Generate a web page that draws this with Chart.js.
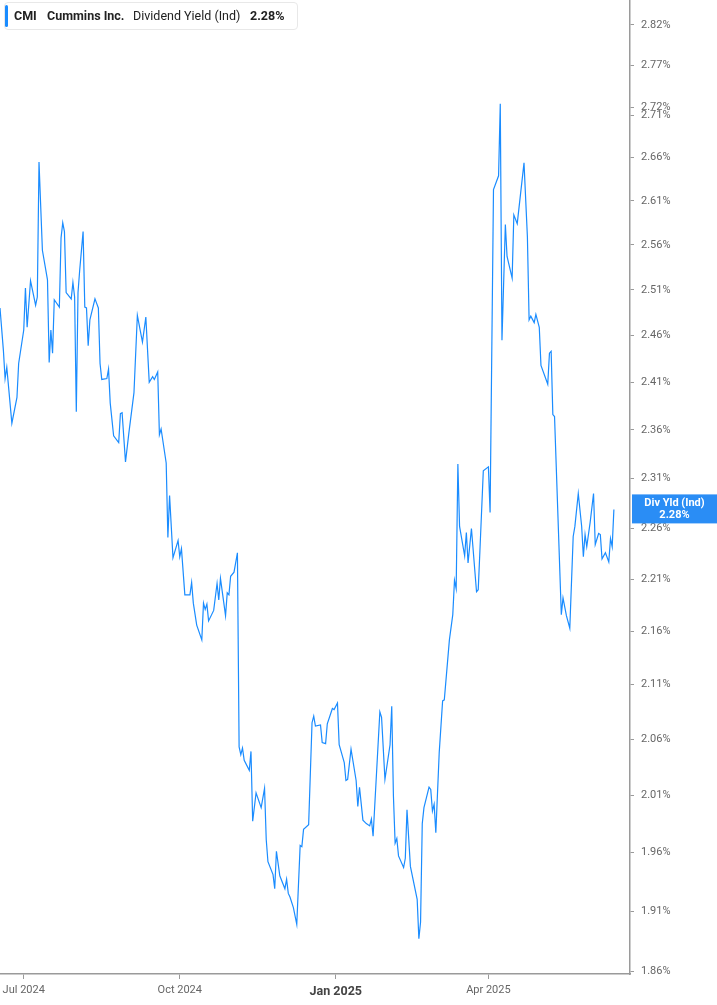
<!DOCTYPE html>
<html lang="en">
<head>
    <meta charset="UTF-8">
    <meta name="viewport" content="width=device-width, initial-scale=1.0">
    <title>CMI Dividend Yield</title>
    <script src="https://cdn.jsdelivr.net/npm/chart.js"></script>
    <style>
        body { margin: 0; font-family: Roboto, Arial, sans-serif; background: #fff; }
        #wrap { position: relative; width: 717px; height: 1005px; }
        #legend {
            position: absolute; left: 4px; top: 2px; width: 292px; height: 26px;
            border: 1px solid #e8e8e8; border-radius: 4px; background: #fff;
            font-size: 12.5px; color: #222; line-height: 26px; white-space: nowrap;
        }
        #legend .bar { position: absolute; left: 0; top: 2px; width: 3px; height: 22px; background: #1a8cff; border-radius: 2px; }
        #legend span { position: absolute; top: 0; }
    </style>
</head>
<body>
<div id="wrap">
    <canvas id="yieldChart"></canvas>
    <div id="legend">
        <div class="bar"></div>
        <span style="left:9px;font-weight:700">CMI</span>
        <span style="left:42px;font-weight:700">Cummins Inc.</span>
        <span style="left:128px">Dividend Yield (Ind)</span>
        <span style="left:245px;font-weight:700">2.28%</span>
    </div>
</div>
<script>
// dividend yield (%)
const dates = [
    '2024-06-17','2024-06-19','2024-06-20','2024-06-21','2024-06-24','2024-06-27','2024-06-28',
    '2024-07-01','2024-07-02','2024-07-03','2024-07-05','2024-07-08','2024-07-09','2024-07-10','2024-07-12',
    '2024-07-15','2024-07-16','2024-07-17','2024-07-18','2024-07-19','2024-07-22','2024-07-23','2024-07-24',
    '2024-07-25','2024-07-26','2024-07-29','2024-07-30','2024-07-31',
    '2024-08-01','2024-08-02','2024-08-03','2024-08-05','2024-08-06','2024-08-07','2024-08-08','2024-08-09',
    '2024-08-12','2024-08-13','2024-08-14','2024-08-15','2024-08-16','2024-08-19','2024-08-20','2024-08-21',
    '2024-08-23','2024-08-26','2024-08-27','2024-08-28','2024-08-30',
    '2024-09-01','2024-09-04','2024-09-06','2024-09-09','2024-09-11','2024-09-13','2024-09-15','2024-09-16',
    '2024-09-18','2024-09-19','2024-09-20','2024-09-23','2024-09-24','2024-09-25','2024-09-27','2024-09-30',
    '2024-10-01','2024-10-02','2024-10-04','2024-10-07','2024-10-08','2024-10-09','2024-10-11','2024-10-14',
    '2024-10-15','2024-10-16','2024-10-17','2024-10-18','2024-10-21','2024-10-23','2024-10-24','2024-10-25',
    '2024-10-28','2024-10-29','2024-10-30','2024-10-31',
    '2024-11-02','2024-11-04','2024-11-05','2024-11-06','2024-11-07','2024-11-08','2024-11-11','2024-11-12',
    '2024-11-13','2024-11-15','2024-11-18','2024-11-20','2024-11-21','2024-11-22','2024-11-25','2024-11-26',
    '2024-11-27','2024-11-29',
    '2024-12-02','2024-12-03','2024-12-04','2024-12-05','2024-12-07','2024-12-09','2024-12-11','2024-12-12',
    '2024-12-13','2024-12-16','2024-12-18','2024-12-19','2024-12-20','2024-12-23','2024-12-24','2024-12-26',
    '2024-12-27','2024-12-30','2024-12-31',
    '2025-01-02','2025-01-03','2025-01-06','2025-01-07','2025-01-08','2025-01-10','2025-01-13','2025-01-14',
    '2025-01-15','2025-01-17','2025-01-19','2025-01-21','2025-01-22','2025-01-23','2025-01-27','2025-01-28',
    '2025-01-30',
    '2025-02-02','2025-02-03','2025-02-04','2025-02-05','2025-02-06','2025-02-07','2025-02-10','2025-02-11',
    '2025-02-12','2025-02-14','2025-02-18','2025-02-19','2025-02-20','2025-02-21','2025-02-22','2025-02-25',
    '2025-02-26','2025-02-27','2025-02-28',
    '2025-03-01','2025-03-03','2025-03-05','2025-03-06','2025-03-09','2025-03-11','2025-03-12','2025-03-13',
    '2025-03-14','2025-03-15','2025-03-18','2025-03-19','2025-03-20','2025-03-22','2025-03-25','2025-03-26',
    '2025-03-27','2025-03-29',
    '2025-04-01','2025-04-02','2025-04-04','2025-04-07','2025-04-08','2025-04-09','2025-04-11','2025-04-12',
    '2025-04-15','2025-04-16','2025-04-18','2025-04-22','2025-04-24','2025-04-25','2025-04-26','2025-04-28',
    '2025-04-29',
    '2025-05-01','2025-05-02','2025-05-06','2025-05-07','2025-05-08','2025-05-09','2025-05-10','2025-05-14',
    '2025-05-15','2025-05-17','2025-05-19','2025-05-21','2025-05-22','2025-05-24','2025-05-26','2025-05-27',
    '2025-05-28','2025-05-29','2025-05-31',
    '2025-06-02','2025-06-03','2025-06-05','2025-06-06','2025-06-07','2025-06-09','2025-06-11','2025-06-12',
    '2025-06-13','2025-06-14'
];
const yields = [
    2.490,2.444,2.414,2.426,2.367,2.394,2.430,
    2.466,2.512,2.469,2.520,2.493,2.502,2.655,2.554,
    2.521,2.431,2.466,2.441,2.499,2.491,2.568,2.585,
    2.575,2.507,2.500,2.518,2.502,
    2.379,2.507,2.532,2.575,2.491,2.490,2.449,2.477,
    2.500,2.495,2.490,2.430,2.413,2.414,2.424,2.388,
    2.354,2.347,2.377,2.378,2.327,
    2.357,2.399,2.482,2.453,2.480,2.410,2.416,2.413,
    2.421,2.355,2.361,2.326,2.251,2.293,2.231,2.248,
    2.232,2.240,2.195,2.195,2.207,2.187,2.166,2.152,
    2.187,2.181,2.186,2.170,2.180,2.206,2.190,2.211,
    2.175,2.197,2.195,2.213,
    2.217,2.236,2.053,2.046,2.052,2.041,2.032,2.049,
    1.987,2.012,1.999,2.016,1.971,1.952,1.941,1.929,
    1.961,1.940,
    1.929,1.937,1.925,1.922,1.913,1.899,1.966,1.965,
    1.980,1.984,2.075,2.081,2.072,2.073,2.057,2.056,
    2.074,2.088,2.087,
    2.093,2.055,2.039,2.023,2.024,2.051,2.023,2.000,
    2.017,1.988,1.985,1.983,1.989,1.974,2.085,2.080,
    2.024,
    2.055,2.090,2.009,1.968,1.972,1.957,1.947,1.955,
    1.997,1.948,1.920,1.887,1.901,1.985,1.999,2.017,
    2.015,1.996,2.002,
    1.977,2.048,2.095,2.096,2.152,2.176,2.209,2.201,
    2.325,2.262,2.233,2.256,2.226,2.260,2.198,2.200,
    2.238,2.318,
    2.322,2.276,2.623,2.639,2.724,2.455,2.583,2.547,
    2.523,2.594,2.584,2.654,2.569,2.477,2.481,2.474,
    2.483,
    2.469,2.428,2.408,2.441,2.443,2.376,2.374,2.176,
    2.192,2.175,2.163,2.252,2.262,2.295,2.262,2.232,
    2.254,2.242,2.266,
    2.295,2.244,2.255,2.254,2.230,2.236,2.227,2.250,
    2.242,2.279
];

// axis ticks
const xTickDates = ['2024-07-01', '2024-10-01', '2025-01-01', '2025-04-01'];
const xTickLabels = ['Jul 2024', 'Oct 2024', 'Jan 2025', 'Apr 2025'];
const yTicks = [1.86, 1.91, 1.96, 2.01, 2.06, 2.11, 2.16, 2.21, 2.26, 2.31, 2.36, 2.41,
                2.46, 2.51, 2.56, 2.61, 2.66, 2.71, 2.72, 2.77, 2.82];
const lastLabel = 'Div Yld (Ind)';

// days since 1 Jul 2024 (no date adapter available, so x is a plain number)
const base = Date.parse('2024-07-01');
const toDay = s => (Date.parse(s) - base) / 86400000;

const points = dates.map((d, i) => ({ x: toDay(d), y: yields[i] }));
const xTicks = xTickDates.map(toDay);
const isJan = ctx => !!(ctx.tick && ctx.tick.value === xTicks[2]);

// blue box with the latest value on the right axis
const lastValueBox = {
    id: 'lastValueBox',
    afterDraw(chart) {
        const ctx = chart.ctx;
        const y = chart.scales.y.getPixelForValue(yields[yields.length - 1]);
        const left = chart.chartArea.right + 2;
        ctx.save();
        ctx.fillStyle = '#2a8df5';
        ctx.fillRect(left, y - 15, chart.width - left, 29);
        ctx.fillStyle = '#fff';
        ctx.font = 'bold 11px Roboto, Arial, sans-serif';
        ctx.textAlign = 'center';
        ctx.textBaseline = 'middle';
        const cx = (left + chart.width) / 2;
        ctx.fillText(lastLabel, cx, y - 6);
        ctx.fillText(yields[yields.length - 1].toFixed(2) + '%', cx, y + 6);
        ctx.restore();
    }
};

new Chart(document.getElementById('yieldChart'), {
    type: 'line',
    data: {
        datasets: [{
            data: points,
            borderColor: '#1a8cff',
            borderWidth: 1.2,
            pointRadius: 0,
            tension: 0
        }]
    },
    options: {
        responsive: true,
        maintainAspectRatio: false,
        animation: false,
        layout: { padding: 0 },
        plugins: { legend: { display: false }, tooltip: { enabled: false } },
        scales: {
            x: {
                type: 'linear',
                min: -14,
                max: 357.5,
                afterBuildTicks: s => { s.ticks = xTicks.map(v => ({ value: v })); },
                afterFit: s => { s.height = 31; s.paddingLeft = 0; s.paddingRight = 0; },
                grid: { drawOnChartArea: false, tickLength: 5, color: '#9a9a9a' },
                border: { color: '#9a9a9a', width: 1.5 },
                ticks: {
                    autoSkip: false,
                    maxRotation: 0,
                    padding: 5,
                    color: ctx => isJan(ctx) ? '#444' : '#666',
                    font: ctx => isJan(ctx)
                        ? { family: 'Roboto', size: 12.5, weight: 'bold' }
                        : { family: 'Roboto', size: 11 },
                    callback: v => xTickLabels[xTicks.indexOf(v)]
                }
            },
            y: {
                type: 'logarithmic',
                position: 'right',
                min: 1.858,
                max: 2.851,
                afterBuildTicks: s => { s.ticks = yTicks.map(v => ({ value: v })); },
                afterFit: s => { s.width = 87; s.paddingTop = 0; s.paddingBottom = 0; },
                grid: { drawOnChartArea: false, tickLength: 4, color: '#9a9a9a' },
                border: { color: '#9a9a9a', width: 1.5 },
                ticks: {
                    autoSkip: false,
                    padding: 7,
                    color: '#666',
                    font: { family: 'Roboto', size: 11 },
                    callback: v => v.toFixed(2) + '%'
                }
            }
        }
    },
    plugins: [lastValueBox]
});
</script>
</body>
</html>
